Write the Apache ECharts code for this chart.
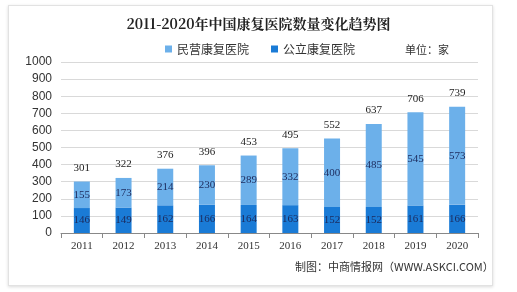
<!DOCTYPE html>
<html><head><meta charset="utf-8">
<script src="https://cdn.jsdelivr.net/npm/echarts@6/dist/echarts.min.js"></script>
<style>
html,body{margin:0;padding:0;background:#fff;}
#card{position:absolute;left:8px;top:5px;width:483px;height:279px;border:1px solid #e2e2e2;box-shadow:0 1px 3px rgba(0,0,0,0.15);background:#fff;}
#c{position:absolute;left:0;top:0;width:517px;height:292px;}
</style></head>
<body><div id="card"></div><div id="c"></div>
<script>
var categories = ['2011','2012','2013','2014','2015','2016','2017','2018','2019','2020'];
var publicVals = [146,149,162,166,164,163,152,152,161,166];
var privateVals = [155,173,214,230,289,332,400,485,545,573];
var totals = [301,322,376,396,453,495,552,637,706,739];
var yTicks = [0,100,200,300,400,500,600,700,800,900,1000];

var chart = echarts.init(document.getElementById('c'), null, {renderer:'canvas'});
var font = '"Noto Sans CJK SC", "Liberation Sans", sans-serif';
chart.setOption({
  animation:false,
  title:{text:'2011-2020年中国康复医院数量变化趋势图',left:'center',top:12,
    textStyle:{fontSize:14,fontWeight:'bold',color:'#222',fontFamily:'"Noto Serif CJK SC","Noto Sans CJK SC",serif'}},
  legend:{top:38,left:160,itemWidth:7,itemHeight:7,itemGap:22,icon:'rect',
    textStyle:{fontSize:12,color:'#333',fontFamily:font},
    data:['民营康复医院','公立康复医院']},
  graphic:[{type:'text',left:405,top:44,style:{text:'单位：家',fontSize:11,fill:'#333',fontFamily:font}},
           {type:'text',left:295,top:261,style:{text:'制图：中商情报网（WWW.ASKCI.COM）',fontSize:11,fill:'#333',fontFamily:font}}],
  grid:{left:61,right:39,top:62,bottom:59},
  xAxis:{type:'category',data:categories,
    axisLine:{lineStyle:{color:'#888'}},axisTick:{show:true,lineStyle:{color:'#888'}},
    axisLabel:{fontSize:11,color:'#333',margin:8,fontFamily:'"Liberation Serif",serif'}},
  yAxis:{type:'value',min:yTicks[0],max:yTicks[yTicks.length-1],interval:100,
    axisLine:{show:false},axisTick:{show:false},
    axisLabel:{fontSize:12,color:'#333',margin:9,fontFamily:'"Liberation Sans",sans-serif',
      formatter:function(v){return String(v);}},
    splitLine:{lineStyle:{color:'#d9d9d9'}}},
  series:[
    {name:'公立康复医院',type:'bar',stack:'a',data:publicVals,barWidth:16,
      itemStyle:{color:'#1a7bd6'},
      label:{show:true,position:'inside',fontSize:11,color:'#1c2a5c',fontFamily:'"Liberation Serif",serif'}},
    {name:'民营康复医院',type:'bar',stack:'a',data:privateVals,barWidth:16,
      itemStyle:{color:'#6cb0ea'},
      label:{show:true,position:'inside',fontSize:11,color:'#1c2a5c',fontFamily:'"Liberation Serif",serif'}},
    {name:'total',type:'bar',stack:'a',data:totals.map(function(){return 0;}),barWidth:16,
      itemStyle:{color:'transparent'},
      label:{show:true,position:'top',distance:8,fontSize:11,color:'#222',fontFamily:'"Liberation Serif",serif',
        formatter:function(p){return totals[p.dataIndex];}}}
  ]
});
</script></body></html>
